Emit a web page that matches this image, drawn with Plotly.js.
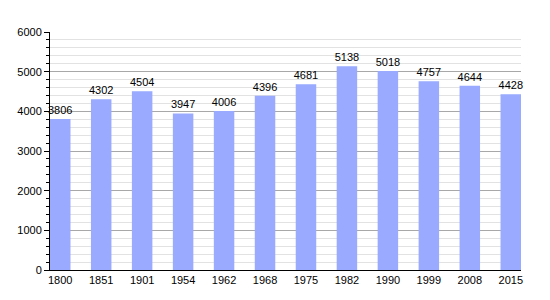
<!DOCTYPE html>
<html>
<head>
<meta charset="utf-8">
<script src="https://cdn.plot.ly/plotly-3.0.1.min.js"></script>
<style>html,body{margin:0;padding:0;background:#fff;}#chart{width:550px;height:300px;}</style>
</head>
<body>
<div id="chart"></div>
<script>
const years = ["1800","1851","1901","1954","1962","1968","1975","1982","1990","1999","2008","2015"];
const population = [3806,4302,4504,3947,4006,4396,4681,5138,5018,4757,4644,4428];
const yTicks = [0,1000,2000,3000,4000,5000,6000];

const trace = {
  type: 'bar',
  x: years,
  y: population,
  text: population.map(String),
  textposition: 'outside',
  constraintext: 'none',
  cliponaxis: false,
  textfont: {family: 'Liberation Sans, Arial, sans-serif', size: 11, color: '#000'},
  marker: {color: '#99aaff', line: {width: 0}},
  hoverinfo: 'none'
};

const layout = {
  width: 550, height: 300,
  margin: {l: 50, r: 29, t: 32, b: 30},
  paper_bgcolor: '#fff', plot_bgcolor: '#fff',
  bargap: 0.5,
  showlegend: false,
  font: {family: 'Liberation Sans, Arial, sans-serif', size: 11, color: '#000'},
  xaxis: {
    type: 'category',
    range: [-0.25, 11.25],
    showline: true, linecolor: '#000', linewidth: 1,
    showgrid: false, ticks: '', ticklen: 0,
    tickfont: {size: 11, color: '#000'},
    zeroline: false, fixedrange: true
  },
  yaxis: {
    range: [0, 6000],
    tickvals: yTicks,
    ticktext: yTicks.map(String),
    showline: true, linecolor: '#000', linewidth: 1,
    ticks: 'outside', ticklen: 5, tickcolor: '#000', tickwidth: 1,
    showgrid: true, gridcolor: '#a8a8a8', gridwidth: 1,
    minor: {dtick: 200, showgrid: true, gridcolor: '#e2e2e2', gridwidth: 1, ticks: 'outside', ticklen: 3, tickcolor: '#000'},
    tickfont: {size: 11, color: '#000'},
    zeroline: false, fixedrange: true
  }
};

Plotly.newPlot('chart', [trace], layout, {staticPlot: true, displayModeBar: false});
</script>
</body>
</html>
